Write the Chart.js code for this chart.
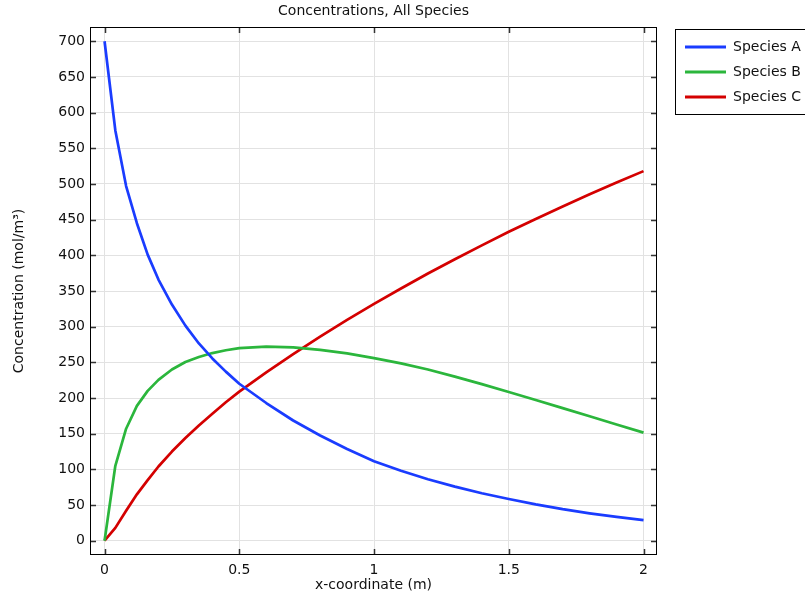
<!DOCTYPE html>
<html>
<head>
<meta charset="utf-8">
<script src="https://cdn.jsdelivr.net/npm/chart.js@4/dist/chart.umd.min.js"></script>
<style>
  html, body { margin: 0; padding: 0; background: #fff; }
  #wrap { width: 805px; height: 598px; }
</style>
</head>
<body>
<div id="wrap"><canvas id="concChart" width="805" height="598"></canvas></div>
<script>
// x-coordinate samples (m)
const xCoords = [0, 0.04, 0.08, 0.12, 0.16, 0.2, 0.25, 0.3, 0.35, 0.4, 0.45, 0.5, 0.6, 0.7, 0.8, 0.9,
                 1.0, 1.1, 1.2, 1.3, 1.4, 1.5, 1.6, 1.7, 1.8, 1.9, 2.0];
// concentrations (mol/m^3)
const speciesA = [700, 575, 497, 445, 401, 366, 331, 301.5, 276.5, 255.5, 237, 220, 193, 168.5, 147.5, 128.5,
                  111.5, 98, 86.2, 75.8, 66.6, 58.5, 50.9, 44.2, 38.4, 33.4, 29];
const speciesB = [0, 105, 157, 189, 210, 225.5, 240, 250.5, 257.5, 263, 267, 270, 272, 271, 267.5, 262.5,
                  256, 248.5, 240, 230, 219.5, 208.5, 197.3, 185.9, 174.4, 162.9, 151.5];
const speciesC = [0, 18, 42, 65, 85, 104, 125, 144, 161.5, 178, 194, 209, 236, 261.5, 286, 309.5,
                  332, 353.5, 374.5, 394.5, 414, 433, 451, 468.5, 485.5, 502, 518];
const seriesNames = ['Species A', 'Species B', 'Species C'];
const seriesColors = ['#1a3cff', '#2bb63c', '#d40000'];
const xTicks = [0, 0.5, 1, 1.5, 2];
const yTicks = [0, 50, 100, 150, 200, 250, 300, 350, 400, 450, 500, 550, 600, 650, 700];

const FONT = 'DejaVu Sans';
const FSIZE = 14;
const toPoints = ys => xCoords.map((x, i) => ({ x: x, y: ys[i] }));

// box, inward ticks on all four sides, and the legend outside on the right
const framePlugin = {
  id: 'frame',
  afterDraw(chart) {
    const { ctx, chartArea: a, scales } = chart;
    const len = 6;
    ctx.save();
    ctx.strokeStyle = '#333';
    ctx.lineWidth = 1.5;
    ctx.beginPath();
    xTicks.forEach(v => {
      const px = Math.round(scales.x.getPixelForValue(v)) + 0.5;
      ctx.moveTo(px, a.bottom); ctx.lineTo(px, a.bottom - len);
      ctx.moveTo(px, a.top); ctx.lineTo(px, a.top + len);
    });
    yTicks.forEach(v => {
      const py = Math.round(scales.y.getPixelForValue(v)) + 0.5;
      ctx.moveTo(a.left, py); ctx.lineTo(a.left + len, py);
      ctx.moveTo(a.right, py); ctx.lineTo(a.right - len, py);
    });
    ctx.stroke();

    ctx.strokeStyle = '#000';
    ctx.lineWidth = 1;
    ctx.strokeRect(a.left + 0.5, a.top + 0.5, a.right - a.left - 1, a.bottom - a.top - 1);

    // legend
    const lx = 675.5, ly = 29.5;
    ctx.strokeRect(lx, ly, 140, 85);
    ctx.font = FSIZE + 'px ' + FONT;
    ctx.textBaseline = 'middle';
    ctx.fillStyle = '#111';
    chart.data.datasets.forEach((ds, i) => {
      const y = 47 + i * 25;
      ctx.strokeStyle = ds.borderColor;
      ctx.lineWidth = 2.8;
      ctx.beginPath();
      ctx.moveTo(685, y); ctx.lineTo(726, y);
      ctx.stroke();
      ctx.fillText(ds.label, 733, y);
    });
    ctx.restore();
  }
};

const ctx = document.getElementById('concChart').getContext('2d');
new Chart(ctx, {
  type: 'line',
  data: {
    datasets: [speciesA, speciesB, speciesC].map((ys, i) => ({
      label: seriesNames[i],
      data: toPoints(ys),
      borderColor: seriesColors[i],
      backgroundColor: seriesColors[i],
      borderWidth: 2.7,
      pointRadius: 0,
      tension: 0,
      borderJoinStyle: 'round',
      fill: false
    }))
  },
  options: {
    responsive: false,
    animation: false,
    layout: { padding: { left: 0, right: 148, top: 27, bottom: 0 } },
    plugins: {
      legend: { display: false },
      tooltip: { enabled: false },
      title: { display: false }
    },
    scales: {
      x: {
        type: 'linear',
        min: -0.054,
        max: 2.05,
        afterBuildTicks: s => { s.ticks = xTicks.map(v => ({ value: v })); },
        afterFit: s => { s.height = 43; },
        grid: { color: '#e2e2e2', lineWidth: 1, drawTicks: false },
        border: { display: false },
        ticks: {
          padding: 7,
          color: '#111',
          font: { family: FONT, size: FSIZE },
          callback: v => String(v)
        },
        title: {
          display: true,
          text: 'x-coordinate (m)',
          color: '#111',
          font: { family: FONT, size: FSIZE },
          padding: { top: 0, bottom: 4 }
        }
      },
      y: {
        type: 'linear',
        min: -20,
        max: 720,
        afterBuildTicks: s => { s.ticks = yTicks.map(v => ({ value: v })); },
        afterFit: s => { s.width = 90; },
        grid: { color: '#e2e2e2', lineWidth: 1, drawTicks: false },
        border: { display: false },
        ticks: {
          padding: 5,
          color: '#111',
          font: { family: FONT, size: FSIZE }
        },
        title: {
          display: true,
          text: 'Concentration (mol/m³)',
          color: '#111',
          font: { family: FONT, size: FSIZE },
          padding: { top: 11, bottom: 0 }
        }
      }
    }
  },
  plugins: [framePlugin, {
    id: 'topTitle',
    afterDraw(chart) {
      const { ctx, chartArea: a } = chart;
      ctx.save();
      ctx.font = FSIZE + 'px ' + FONT;
      ctx.fillStyle = '#111';
      ctx.textAlign = 'center';
      ctx.textBaseline = 'middle';
      ctx.fillText('Concentrations, All Species', (a.left + a.right) / 2, 11);
      ctx.restore();
    }
  }]
});
</script>
</body>
</html>
